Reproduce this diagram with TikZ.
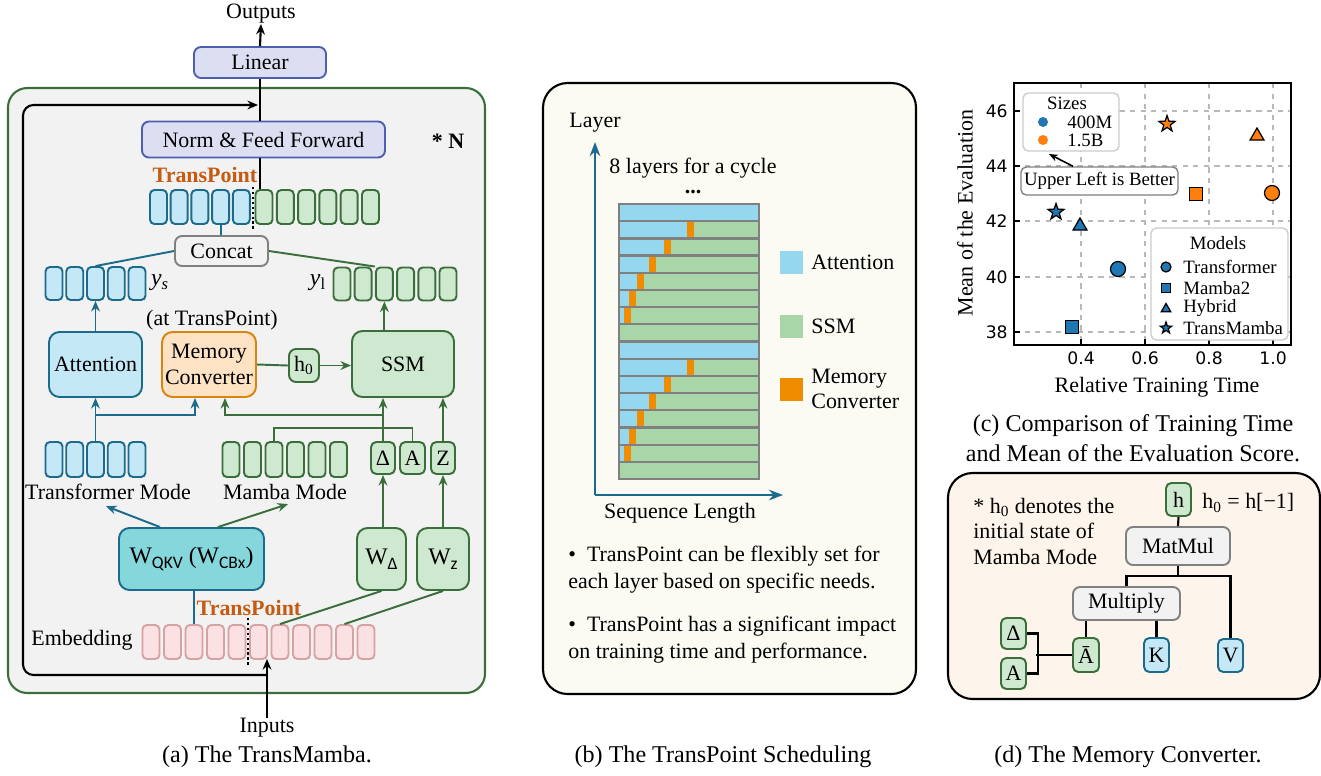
\documentclass[tikz,border=0pt]{standalone}
\usepackage{fontspec}
\setmainfont{Liberation Serif}
\setsansfont{Carlito}
\newfontfamily\tickfont{DejaVu Sans}
\usetikzlibrary{arrows.meta,shapes.geometric}

\definecolor{bluefill}{HTML}{C5E8F7}
\definecolor{blueline}{HTML}{1C6A8C}
\definecolor{greenfill}{HTML}{CFE8D0}
\definecolor{greenline}{HTML}{3A6E3A}
\definecolor{pinkfill}{HTML}{FCE1E4}
\definecolor{pinkline}{HTML}{D6A2A2}
\definecolor{lavfill}{HTML}{DCDFF2}
\definecolor{lavline}{HTML}{4F5FB0}
\definecolor{orangefill}{HTML}{FDE2C4}
\definecolor{orangeline}{HTML}{D9840D}
\definecolor{tealfill}{HTML}{85D7DC}
\definecolor{graybg}{HTML}{F2F2F2}
\definecolor{tpcolor}{HTML}{C55A11}
\definecolor{panelb}{HTML}{FBFBF4}
\definecolor{paneld}{HTML}{FDF5EB}
\definecolor{barblue}{HTML}{96D7F0}
\definecolor{bargreen}{HTML}{A9D6A9}
\definecolor{barorange}{HTML}{F08C00}
\definecolor{mplblue}{HTML}{1F77B4}
\definecolor{mplorange}{HTML}{FF7F0E}

\newcommand{\mainsz}{\fontsize{12.5}{14.5}\selectfont}
\newcommand{\capsz}{\fontsize{13.7}{17}\selectfont}
\newcommand{\legsz}{\fontsize{10.7}{12}\selectfont}
\newcommand{\lowsub}[1]{\raisebox{-0.45ex}{\fontsize{10}{10}\selectfont\sffamily #1}}

\tikzset{
	wh/.style 2 args={minimum width=#1*0.02cm, minimum height=#2*0.02cm},
	blk/.style={draw, rounded corners=6pt, line width=1.1pt, inner sep=0pt, align=center, font=\mainsz},
	lavbox/.style={blk, fill=lavfill, draw=lavline, rounded corners=4pt},
	bluebox/.style={blk, fill=bluefill, draw=blueline},
	greenbox/.style={blk, fill=greenfill, draw=greenline},
	graybox/.style={blk, fill=graybg, draw=gray, rounded corners=4pt},
	tok/.style={draw, rounded corners=2.5pt, line width=1.1pt, inner sep=0pt, wh={17}{34}},
	tokb/.style={tok, fill=bluefill, draw=blueline},
	tokg/.style={tok, fill=greenfill, draw=greenline},
	tokp/.style={tok, fill=pinkfill, draw=pinkline},
	txt/.style={inner sep=0pt, font=\mainsz},
	capt/.style={inner sep=0pt, font=\capsz, align=center},
	tplab/.style={inner sep=0pt, font=\mainsz\bfseries, text=tpcolor},
	bline/.style={draw=blueline, line width=1.1pt},
	gline/.style={draw=greenline, line width=1.1pt},
	kline/.style={draw=black, line width=1.2pt},
	barr/.style={bline, -{Stealth[length=6pt, width=5pt]}},
	garr/.style={gline, -{Stealth[length=6pt, width=5pt]}},
	karr/.style={kline, -{Stealth[length=6pt, width=5pt]}},
	axarr/.style={draw=blueline, line width=1.4pt, -{Stealth[length=8pt, width=6pt]}},
	tpdots/.style={black, line width=1.4pt, dash pattern=on 1.4pt off 1.4pt},
	panel/.style={draw=black, line width=1.2pt, rounded corners=14pt},
	gridl/.style={draw=gray!55, line width=0.6pt, dashed},
	tickl/.style={inner sep=0pt, font=\tickfont\fontsize{9.8}{11}\selectfont},
	legbox/.style={draw=gray!40, fill=white, line width=0.8pt, rounded corners=3pt},
	mk/.style={draw=black, line width=0.7pt, inner sep=0pt},
	mcirc/.style={mk, circle, minimum size=#1*0.02cm}, mcirc/.default=15,
	msq/.style={mk, rectangle, minimum size=#1*0.02cm}, msq/.default=13.5,
	mtri/.style={mk, regular polygon, regular polygon sides=3, minimum size=#1*0.02cm}, mtri/.default=16,
	mstar/.style={mk, star, star points=5, star point ratio=2.5, minimum size=#1*0.02cm}, mstar/.default=17,
}

\begin{document}
\begin{tikzpicture}[x=0.02cm, y=-0.02cm]
	\useasboundingbox (0, 0) rectangle (1321, 775);

	\draw[draw=greenline, fill=graybg, line width=1.2pt, rounded corners=11pt] (8, 88) rectangle (485, 693);
	\node[txt] (outputs)at(261, 14) {Outputs};
	\node[lavbox, wh={132}{31}] (linear)at(260, 62.5) {Linear};
	\node[lavbox, wh={243}{36}] (norm)at(263.5, 139.5) {Norm \& Feed Forward};
	\node[txt, font=\mainsz\bfseries] (nstar)at(448, 141) {* N};
	\node[tplab] (tptop)at(205, 175) {TransPoint};
	\foreach \i in {1,...,5} \node[tokb] (tb\i)at({137.8+20.7*\i}, 207) {};
	\foreach \i in {1,...,6} \node[tokg] (tg\i)at({242.7+21.3*\i}, 207) {};
	\node[graybox, wh={93}{30}] (concat)at(221.5, 251) {Concat};
	\foreach \i in {1,...,5} \node[tokb, wh={17}{33}] (ys\i)at({33.25+20.75*\i}, 283.5) {};
	\node[txt, font=\fontsize{13.5}{15}\selectfont] (yslab)at(160, 283) {\textit{y}\textsubscript{\textit{s}}};
	\foreach \i in {1,...,6} \node[tokg, wh={17}{33}] (yl\i)at({320.8+21.2*\i}, 284) {};
	\node[txt, font=\fontsize{13.5}{15}\selectfont] (yllab)at(318, 283) {\textit{y}\textsubscript{l}};
	\node[txt] (atp)at(212, 320) {(at TransPoint)};
	\node[bluebox, wh={93}{65}] (attn)at(95.5, 364.5) {Attention};
	\node[blk, fill=orangefill, draw=orangeline, wh={94}{65}] (mc)at(209, 364.5) {Memory\\Converter};
	\node[greenbox, rounded corners=4pt, wh={30}{33}] (h0)at(304, 365.5) {h\textsubscript{0}};
	\node[greenbox, wh={102}{66}] (ssm)at(403, 364) {SSM};
	\foreach \i in {1,...,5} \node[tokb, wh={17}{35}] (tt\i)at({33.25+20.75*\i}, 459.5) {};
	\foreach \i in {1,...,6} \node[tokg, wh={17}{35}] (mt\i)at({209.5+21.5*\i}, 459.5) {};
	\node[txt] (tmlab)at(108, 492) {Transformer Mode};
	\node[txt] (mmlab)at(285, 492) {Mamba Mode};
	\node[greenbox, rounded corners=3pt, wh={24}{32}] (dl)at(383, 458) {Δ};
	\node[greenbox, rounded corners=3pt, wh={25}{32}] (ab)at(412.5, 458) {A};
	\node[greenbox, rounded corners=3pt, wh={24}{32}] (zb)at(443, 458) {Z};
	\node[blk, fill=tealfill, draw=blueline, wh={145}{62}, font=\fontsize{13.5}{15}\selectfont] (wqkv)at(191.5, 559) {W\lowsub{QKV} (W\lowsub{CBx})};
	\node[greenbox, wh={49}{62}, font=\fontsize{13.5}{15}\selectfont] (wd)at(381.5, 559) {W\lowsub{Δ}};
	\node[greenbox, wh={52}{62}, font=\fontsize{13.5}{15}\selectfont] (wz)at(443, 559) {W\lowsub{z}};
	\node[tplab] (tpbot)at(249, 608) {TransPoint};
	\node[txt] (emblab)at(82, 640) {Embedding};
	\foreach \i in {1,...,11} \node[tokp, wh={17}{34}] (em\i)at({129.5+21.5*\i}, 642) {};
	\node[txt] (inputs)at(267, 728) {Inputs};
	\node[capt] (capa)at(267, 757) {(a) The TransMamba.};

	\coordinate (resin) at (267, 675);
	\coordinate (resout) at (258, 105);
	\coordinate (embin) at (267, 659);
	\draw[karr] (linear.north) -- (outputs.south);
	\draw[kline] (linear.south) -- (norm.north -| linear.south);
	\draw[kline] (norm.south -| linear.south) -- (tb5.north -| linear.south);
	\draw[karr, rounded corners=6pt] (resin) -- (23, 675) -- (23, 105) -- (resout);
	\draw[karr] (inputs.north) -- (embin);
	\draw[tpdots] (253, 187) -- (253, 229);
	\draw[tpdots] (248, 618) -- (248, 665);
	\draw[bline] (tb4.south) -- (tb4.south |- concat.north);
	\draw[bline] (concat.west) -- (ys3.north);
	\draw[gline] (concat.east) -- (yl3.north west);
	\draw[barr] (attn.north) -- (ys3.south);
	\draw[garr] (yl3.south |- ssm.north) -- (yl3.south);
	\draw[gline] (mc.east) -- (h0.west);
	\draw[garr] (h0.east) -- (ssm.west |- h0.east);
	\draw[barr] (tt3.north) -- (attn.south);
	\draw[barr] (95.5, 415) -| ([xshift=-0.28cm]mc.south);
	\draw[garr] (dl.north) -- (dl.north |- ssm.south);
	\draw[garr] (383, 415) -| ([xshift=0.32cm]mc.south);
	\draw[gline] (mt3.north) -- ++(0, -13) -| (ab.north);
	\draw[garr] (zb.north) -- (zb.north |- ssm.south);
	\draw[garr] (dl.south |- wd.north) -- (dl.south);
	\draw[garr] (wz.north) -- (zb.south);
	\draw[barr] ([xshift=-0.63cm]wqkv.north) -- ([xshift=-0.04cm, yshift=-0.12cm]tmlab.south);
	\draw[garr] ([xshift=0.53cm]wqkv.north) -- ([xshift=0.06cm, yshift=-0.08cm]mmlab.south);
	\draw[bline] (em3.north |- wqkv.south) -- (em3.north);
	\draw[gline] (wd.south) -- (em7.north);
	\draw[gline] (wz.south) -- (em10.north);

	\draw[panel, fill=panelb] (543, 83) rectangle (916, 694);
	\node[txt] (layer)at(595, 123) {Layer};
	\coordinate (org) at (595, 495);
	\draw[axarr] (org) -- (595, 142);
	\draw[axarr] (org) -- (783, 495);
	\node[txt] (cyc)at(693, 168) {8 layers for a cycle};
	\node[txt, font=\mainsz\bfseries] (dots)at(693, 192) {...};
	\foreach \k/\blen in {0/140, 1/68, 2/45, 3/30, 4/18, 5/10, 6/5, 7/0}
		\foreach \cyc in {0, 8} {
			\pgfmathsetmacro\yy{204+(\cyc+\k)*17.19}
			\fill[bargreen] (619, \yy) rectangle ++(140, 17.19);
			\ifnum\blen>0 \fill[barblue] (619, \yy) rectangle ++(\blen, 17.19); \fi
			\ifnum\blen>0 \ifnum\blen<140 \fill[barorange] ({619+\blen}, \yy) rectangle ++(7, 17.19); \fi\fi
			\draw[draw=gray, line width=1.3pt] (619, \yy) rectangle ++(140, 17.19);
		}
	\node[fill=barblue, wh={23}{23}] (lgatt)at(791, 262) {};
	\node[txt, anchor=west] (lgattl)at(811, 262) {Attention};
	\node[fill=bargreen, wh={23}{23}] (lgssm)at(791, 326) {};
	\node[txt, anchor=west] (lgssml)at(811, 326) {SSM};
	\node[fill=barorange, wh={23}{23}] (lgmc)at(791, 389) {};
	\node[txt, anchor=west, align=left] (lgmcl)at(811, 389) {Memory\\Converter};
	\node[txt] (seql)at(680, 513) {Sequence Length};
	\node[txt, anchor=west, align=left, font=\fontsize{12.5}{15.3}\selectfont] (bul1)at(568, 569.5) {•\enspace TransPoint can be flexibly set for\\each layer based on specific needs.};
	\node[txt, anchor=west, align=left, font=\fontsize{12.5}{15.3}\selectfont] (bul2)at(568, 640) {•\enspace TransPoint has a significant impact\\on training time and performance.};
	\node[capt] (capb)at(723, 757) {(b) The TransPoint Scheduling};

	\foreach \gx in {1081, 1145, 1209, 1273} \draw[gridl] (\gx, 83) -- (\gx, 345);
	\foreach \gy in {111, 166, 221, 277, 332} \draw[gridl] (1014, \gy) -- (1291, \gy);
	\draw[line width=1.3pt] (1014, 83) rectangle (1291, 345);
	\foreach \gx/\lab in {1081/0.4, 1145/0.6, 1209/0.8, 1273/1.0} {
		\draw[line width=0.8pt] (\gx, 345) -- (\gx, 339);
		\node[tickl] at (\gx, 358) {\lab};
	}
	\foreach \gy/\lab in {111/46, 166/44, 221/42, 277/40, 332/38} {
		\draw[line width=0.8pt] (1014, \gy) -- (1020, \gy);
		\node[tickl, anchor=east] at (1008, \gy) {\lab};
	}
	\node[txt, rotate=90] (ylab)at(965, 213) {Mean of the Evaluation};
	\node[txt] (xlab)at(1157, 387) {Relative Training Time};
	\node[mstar, fill=mplorange] (os)at(1167, 124) {};
	\node[mtri, fill=mplorange] (ot)at(1257, 136) {};
	\node[msq, fill=mplorange] (oq)at(1196, 194) {};
	\node[mcirc, fill=mplorange] (oc)at(1272, 193) {};
	\node[mstar, fill=mplblue] (bs)at(1056, 212) {};
	\node[mtri, fill=mplblue] (bt)at(1080, 226) {};
	\node[mcirc, fill=mplblue] (bc)at(1118, 269) {};
	\node[msq, fill=mplblue] (bq)at(1072, 327) {};
	\draw[legbox] (1023, 93) rectangle (1119, 151);
	\node[txt, font=\legsz] (szt)at(1067, 103) {Sizes};
	\node[circle, fill=mplblue, minimum size=0.2cm, inner sep=0pt] (sz1)at(1043, 122) {};
	\node[txt, font=\legsz, anchor=west] (sz1l)at(1067, 122) {400M};
	\node[circle, fill=mplorange, minimum size=0.2cm, inner sep=0pt] (sz2)at(1043, 140) {};
	\node[txt, font=\legsz, anchor=west] (sz2l)at(1067, 140) {1.5B};
	\node[draw=gray, fill=white, rounded corners=3pt, line width=0.8pt, inner sep=0pt, font=\legsz, wh={157}{28}] (ulb)at(1099.5, 181) {Upper Left is Better};
	\coordinate (ulp) at (1049, 154);
	\draw[-{Stealth[length=5pt, width=4pt]}, line width=0.9pt] ([xshift=-0.53cm]ulb.north) -- (ulp);
	\draw[legbox] (1151, 228) rectangle (1288, 340);
	\node[txt, font=\legsz] (mdt)at(1218, 243) {Models};
	\node[mcirc=10, fill=mplblue] (lg1)at(1166, 267) {};
	\node[txt, font=\legsz, anchor=west] (lg1l)at(1183, 267) {Transformer};
	\node[msq=9, fill=mplblue] (lg2)at(1166, 288) {};
	\node[txt, font=\legsz, anchor=west] (lg2l)at(1183, 288) {Mamba2};
	\node[mtri=11, fill=mplblue] (lg3)at(1166, 309) {};
	\node[txt, font=\legsz, anchor=west] (lg3l)at(1183, 308) {Hybrid};
	\node[mstar=12, fill=mplblue] (lg4)at(1166, 328) {};
	\node[txt, font=\legsz, anchor=west] (lg4l)at(1183, 328) {TransMamba};
	\node[capt] (capc)at(1133, 438) {(c) Comparison of Training Time\\and Mean of the Evaluation Score.};

	\draw[panel, fill=paneld] (948, 473) rectangle (1320, 699);
	\node[txt, anchor=west, align=left] (note)at(973, 531) {* h\textsubscript{0} denotes the\\initial state of\\Mamba Mode};
	\node[greenbox, rounded corners=3pt, wh={25}{33}] (hb)at(1178.5, 499.5) {h};
	\node[txt, anchor=west] (heq)at(1202, 503) {h\textsubscript{0} = h[−1]};
	\node[graybox, wh={104}{38}] (matmul)at(1178, 546) {MatMul};
	\node[graybox, wh={107}{33}] (mult)at(1126.5, 603.5) {Multiply};
	\node[greenbox, rounded corners=3pt, wh={26}{34}] (abar)at(1086, 655) {Ā};
	\node[bluebox, rounded corners=3pt, wh={25}{34}] (kb)at(1156.5, 655) {K};
	\node[bluebox, rounded corners=3pt, wh={25}{33}] (vb)at(1230.5, 655.5) {V};
	\node[greenbox, rounded corners=3pt, wh={25}{31}] (db)at(1013.5, 633.5) {Δ};
	\node[greenbox, rounded corners=3pt, wh={25}{31}] (aa)at(1013.5, 673.5) {A};
	\coordinate (mj) at (1178, 576);
	\draw[kline] (hb.south) -- (matmul.north);
	\draw[kline] (matmul.south) -- (mj);
	\draw[kline] (mult.north) |- (mj) -| (vb.north);
	\draw[kline] (abar.north) -- (abar.north |- mult.south);
	\draw[kline] (kb.north) -- (kb.north |- mult.south);
	\draw[kline] (db.east) -- ++(11, 0) |- (aa.east);
	\draw[kline] (abar.west) -- ++(-36, 0);
	\node[capt] (capd)at(1128, 757) {(d) The Memory Converter.};
\end{tikzpicture}
\end{document}
